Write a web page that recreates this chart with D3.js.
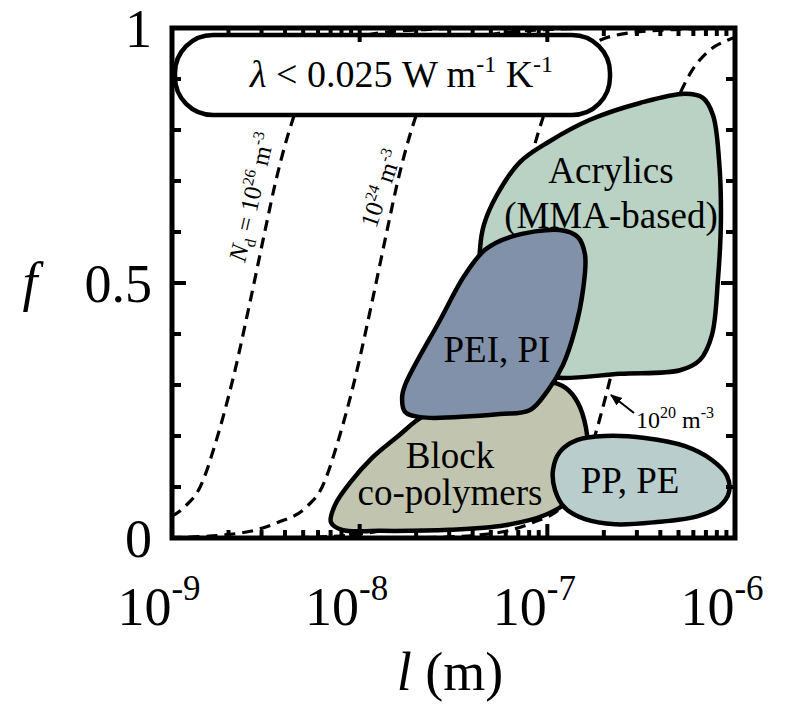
<!DOCTYPE html>
<html>
<head>
<meta charset="utf-8">
<script src="https://cdn.jsdelivr.net/npm/d3@7"></script>
<style>
  body { margin: 0; background: #fff; }
  text { font-family: "Liberation Serif", "Times New Roman", serif; fill: #000; }
</style>
</head>
<body>
<svg id="chart" width="789" height="705"></svg>
<script>
// Axis setup
const xDomain = [1e-9, 1e-6];
const yDomain = [0, 1];
const xTickExponents = ["-9", "-8", "-7", "-6"];
const yTickValues = [0, 0.5, 1];
const yTickLabels = ["0", "0.5", "1"];

// Porosity f versus pore size l for fixed gas-molecule densities N_d.
// Each point is [log10(l / m), f].
const curveNd26 = [[-9.85,0],[-9.55,0.002],[-9.37,0.006],[-9.2,0.016],[-9.09,0.03],[-8.93,0.062],[-8.85,0.1],[-8.765,0.19],[-8.67,0.32],[-8.58,0.47],[-8.5,0.61],[-8.45,0.695],[-8.355,0.822],[-8.25,0.91],[-8.15,0.955],[-8.05,0.976],[-7.9,0.99],[-7.65,0.997],[-7.35,1.0]];
const curveNd24 = [[-9.2,0],[-8.9,0.002],[-8.718,0.006],[-8.55,0.016],[-8.44,0.03],[-8.28,0.062],[-8.2,0.1],[-8.115,0.19],[-8.02,0.32],[-7.93,0.47],[-7.85,0.61],[-7.8,0.695],[-7.705,0.822],[-7.6,0.91],[-7.5,0.955],[-7.4,0.976],[-7.25,0.99],[-7.0,0.997],[-6.7,1.0]];
const curveNd22 = [[-8.52,0],[-8.22,0.002],[-8.04,0.006],[-7.87,0.016],[-7.76,0.03],[-7.6,0.062],[-7.52,0.1],[-7.435,0.19],[-7.34,0.32],[-7.25,0.47],[-7.17,0.61],[-7.12,0.695],[-7.025,0.822],[-6.92,0.91],[-6.82,0.955],[-6.72,0.976],[-6.57,0.99],[-6.32,0.997],[-6.02,1.0]];
const curveNd20 = [[-7.84,0],[-7.54,0.002],[-7.36,0.006],[-7.19,0.016],[-7.08,0.03],[-6.92,0.062],[-6.84,0.1],[-6.755,0.19],[-6.66,0.32],[-6.57,0.47],[-6.49,0.61],[-6.44,0.695],[-6.345,0.822],[-6.24,0.91],[-6.14,0.955],[-6.04,0.976],[-5.89,0.99],[-5.64,0.997]];

// Material regions, outlines as [log10(l / m), f]
const regionNames = ["Acrylics", "Block co-polymers", "PEI, PI", "PP, PE"];
const regionColors = ["#b9d2c3", "#c1c4ae", "#8091a9", "#b9cdcd"];
const acrylics = [[-7.359,0.565],[-7.338,0.614],[-7.268,0.673],[-7.146,0.737],[-6.996,0.776],[-6.773,0.820],[-6.506,0.853],[-6.266,0.871],[-6.171,0.863],[-6.117,0.829],[-6.085,0.741],[-6.075,0.624],[-6.091,0.506],[-6.123,0.398],[-6.187,0.349],[-6.293,0.329],[-6.613,0.322],[-6.933,0.314],[-7.252,0.329],[-7.348,0.408]];
const blockCopolymers = [[-8.153,0.031],[-8.131,0.065],[-8.052,0.108],[-7.934,0.157],[-7.801,0.198],[-7.652,0.241],[-7.412,0.271],[-7.146,0.290],[-6.996,0.306],[-6.901,0.294],[-6.837,0.265],[-6.794,0.216],[-6.783,0.163],[-6.810,0.114],[-6.879,0.075],[-7.012,0.045],[-7.226,0.025],[-7.519,0.016],[-7.892,0.014],[-8.094,0.016]];
const peiPi = [[-7.758,0.300],[-7.572,0.427],[-7.439,0.516],[-7.332,0.565],[-7.199,0.590],[-6.933,0.604],[-6.837,0.590],[-6.799,0.555],[-6.810,0.486],[-6.853,0.408],[-6.917,0.339],[-6.996,0.290],[-7.092,0.251],[-7.252,0.243],[-7.679,0.237],[-7.758,0.247],[-7.774,0.275]];
const ppPe = [[-6.970,0.133],[-6.933,0.169],[-6.842,0.192],[-6.693,0.200],[-6.480,0.196],[-6.266,0.180],[-6.123,0.153],[-6.043,0.122],[-6.032,0.090],[-6.080,0.063],[-6.197,0.043],[-6.426,0.031],[-6.639,0.027],[-6.799,0.037],[-6.906,0.059],[-6.959,0.094]];

const svg = d3.select("#chart");
const plot = { left: 172, top: 28, right: 735, bottom: 538 };

const x = d3.scaleLog().domain(xDomain).range([plot.left, plot.right]);
const y = d3.scaleLinear().domain(yDomain).range([plot.bottom, plot.top]);
const px = d => x(Math.pow(10, d[0]));
const py = d => y(d[1]);

svg.append("defs").append("clipPath").attr("id", "plotClip")
  .append("rect")
  .attr("x", plot.left).attr("y", plot.top)
  .attr("width", plot.right - plot.left).attr("height", plot.bottom - plot.top);

svg.select("defs").append("marker")
  .attr("id", "arrowHead")
  .attr("viewBox", "0 0 10 10").attr("refX", 9).attr("refY", 5)
  .attr("markerWidth", 6).attr("markerHeight", 6)
  .attr("markerUnits", "strokeWidth")
  .attr("orient", "auto")
  .append("path").attr("d", "M0,1 L10,5 L0,9 Z").attr("fill", "#000");

// Dashed N_d curves
const dashLine = d3.line().x(px).y(py).curve(d3.curveMonotoneX);
const curveLayer = svg.append("g").attr("clip-path", "url(#plotClip)");
[curveNd26, curveNd24, curveNd22, curveNd20].forEach(c => {
  curveLayer.append("path")
    .attr("d", dashLine(c))
    .attr("fill", "none")
    .attr("stroke", "#000")
    .attr("stroke-width", 3.2)
    .attr("stroke-dasharray", "11,7");
});

// Thermal conductivity banner
svg.append("rect")
  .attr("x", 175).attr("y", 35).attr("width", 435).attr("height", 80)
  .attr("rx", 38).attr("ry", 38)
  .attr("fill", "#fff").attr("stroke", "#000").attr("stroke-width", 4.5);
const banner = svg.append("text").attr("x", 250).attr("y", 87).attr("font-size", 38);
banner.append("tspan").attr("font-style", "italic").text("λ");
banner.append("tspan").text(" < 0.025 W m");
banner.append("tspan").attr("dy", -15).attr("font-size", 24).text("-1");
banner.append("tspan").attr("dy", 15).text(" K");
banner.append("tspan").attr("dy", -15).attr("font-size", 24).text("-1");

// Material regions
const blobLine = d3.line().x(px).y(py).curve(d3.curveCatmullRomClosed.alpha(0.5));
[acrylics, blockCopolymers, peiPi, ppPe].forEach((r, i) => {
  svg.append("path")
    .attr("class", "region")
    .attr("data-name", regionNames[i])
    .attr("d", blobLine(r))
    .attr("fill", regionColors[i])
    .attr("stroke", "#000")
    .attr("stroke-width", 4.5)
    .attr("stroke-linejoin", "round");
});

// Region labels
const labelSize = 37;
function label(lines, cx, baseline, gap) {
  lines.forEach((s, k) => {
    svg.append("text")
      .attr("x", cx).attr("y", baseline + k * gap)
      .attr("text-anchor", "middle")
      .attr("font-size", labelSize)
      .text(s);
  });
}
label(["Acrylics", "(MMA-based)"], 611, 183, 45);
label(["PEI, PI"], 497, 362, 0);
label(["Block", "co-polymers"], 450, 468, 37);
label(["PP, PE"], 630, 493, 0);

// Curve annotations
const lab26 = svg.append("text").attr("font-size", 25)
  .attr("transform", "translate(245,263) rotate(-77)");
lab26.append("tspan").attr("font-style", "italic").text("N");
lab26.append("tspan").attr("dy", 6).attr("font-size", 16).text("d");
lab26.append("tspan").attr("dy", -6).text(" = 10");
lab26.append("tspan").attr("dy", -10).attr("font-size", 16).text("26");
lab26.append("tspan").attr("dy", 10).text(" m");
lab26.append("tspan").attr("dy", -10).attr("font-size", 16).text("-3");

const lab24 = svg.append("text").attr("font-size", 25)
  .attr("transform", "translate(376,229) rotate(-71)");
lab24.append("tspan").text("10");
lab24.append("tspan").attr("dy", -10).attr("font-size", 16).text("24");
lab24.append("tspan").attr("dy", 10).text(" m");
lab24.append("tspan").attr("dy", -10).attr("font-size", 16).text("-3");

svg.append("line")
  .attr("x1", 634).attr("y1", 413).attr("x2", 611).attr("y2", 395)
  .attr("stroke", "#000").attr("stroke-width", 2)
  .attr("marker-end", "url(#arrowHead)");
const lab20 = svg.append("text").attr("x", 636).attr("y", 428).attr("font-size", 24);
lab20.append("tspan").text("10");
lab20.append("tspan").attr("dy", -10).attr("font-size", 16).text("20");
lab20.append("tspan").attr("dy", 10).text(" m");
lab20.append("tspan").attr("dy", -10).attr("font-size", 16).text("-3");

// Ticks (inward on all four sides)
const ticks = svg.append("g").attr("stroke", "#000").attr("stroke-width", 4);
x.ticks().forEach(t => {
  const e = Math.log10(t);
  const major = Math.abs(e - Math.round(e)) < 1e-6;
  const len = major ? 14 : 8;
  const xx = x(t);
  ticks.append("line").attr("x1", xx).attr("x2", xx).attr("y1", plot.bottom).attr("y2", plot.bottom - len);
  ticks.append("line").attr("x1", xx).attr("x2", xx).attr("y1", plot.top).attr("y2", plot.top + len);
});
y.ticks(10).forEach(t => {
  const len = Math.abs(t - 0.5) < 1e-9 ? 14 : 9;
  const yy = y(t);
  ticks.append("line").attr("x1", plot.left).attr("x2", plot.left + len).attr("y1", yy).attr("y2", yy);
  ticks.append("line").attr("x1", plot.right).attr("x2", plot.right - len).attr("y1", yy).attr("y2", yy);
});

// Frame
svg.append("rect")
  .attr("x", plot.left).attr("y", plot.top)
  .attr("width", plot.right - plot.left).attr("height", plot.bottom - plot.top)
  .attr("fill", "none").attr("stroke", "#000").attr("stroke-width", 5);

// Tick labels
const tickSize = 54;
xTickExponents.forEach(e => {
  const t = svg.append("text")
    .attr("x", x(Math.pow(10, +e)) - 13).attr("y", 625)
    .attr("text-anchor", "middle").attr("font-size", tickSize);
  t.append("tspan").text("10");
  t.append("tspan").attr("dy", -25).attr("font-size", 35).text(e);
});
yTickValues.forEach((v, i) => {
  svg.append("text")
    .attr("x", 152).attr("y", y(v) + 19)
    .attr("text-anchor", "end").attr("font-size", tickSize)
    .text(yTickLabels[i]);
});

// Axis titles
svg.append("text").attr("x", 30).attr("y", 300)
  .attr("text-anchor", "middle").attr("font-size", tickSize)
  .attr("font-style", "italic").text("f");
const xt = svg.append("text").attr("x", 450).attr("y", 690)
  .attr("text-anchor", "middle").attr("font-size", tickSize);
xt.append("tspan").attr("font-style", "italic").text("l");
xt.append("tspan").text(" (m)");
</script>
</body>
</html>
